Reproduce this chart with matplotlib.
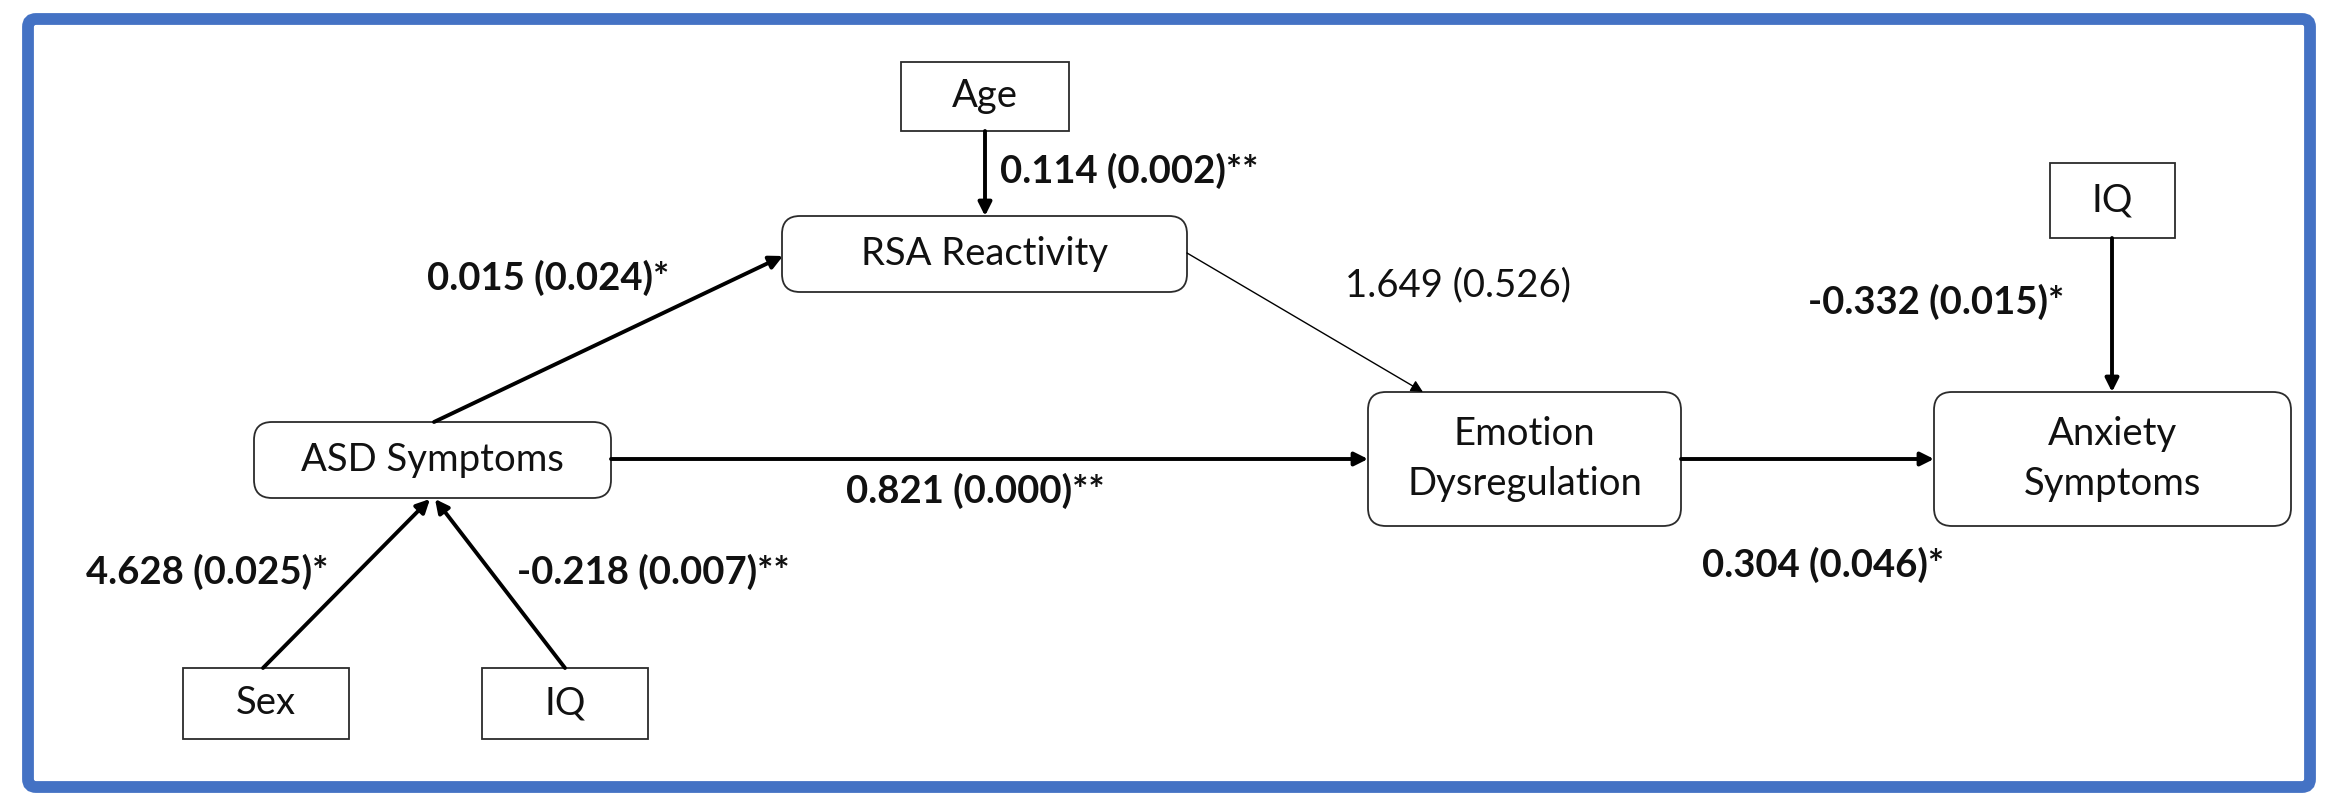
import matplotlib
matplotlib.use('Agg')
from matplotlib import pyplot as plt
from matplotlib.patches import FancyBboxPatch, Rectangle, FancyArrowPatch

plt.rcParams['font.family'] = ['Lato', 'DejaVu Sans']

# nodes of the path model
node_names = ['Age', 'RSA Reactivity', 'ASD Symptoms', 'Sex', 'IQ',
              'Emotion\nDysregulation', 'Anxiety\nSymptoms', 'IQ ']
node_rounded = [False, True, True, False, False, True, True, False]

# paths: (from, to), estimate, p-value, stars
path_ends = [('Age', 'RSA Reactivity'),
             ('ASD Symptoms', 'RSA Reactivity'),
             ('RSA Reactivity', 'Emotion\nDysregulation'),
             ('ASD Symptoms', 'Emotion\nDysregulation'),
             ('Emotion\nDysregulation', 'Anxiety\nSymptoms'),
             ('IQ ', 'Anxiety\nSymptoms'),
             ('Sex', 'ASD Symptoms'),
             ('IQ', 'ASD Symptoms')]
estimates = ['0.114', '0.015', '1.649', '0.821', '0.304', '-0.332', '4.628', '-0.218']
p_values = ['0.002', '0.024', '0.526', '0.000', '0.046', '0.015', '0.025', '0.007']
stars = ['**', '*', '', '**', '*', '*', '*', '**']

# layout in pixel coordinates (x0, y0, x1, y1)
boxes = {
    'Age': (901, 62, 1069, 131),
    'RSA Reactivity': (782, 216, 1187, 292),
    'ASD Symptoms': (254, 422, 611, 498),
    'Sex': (183, 668, 349, 739),
    'IQ': (482, 668, 648, 739),
    'Emotion\nDysregulation': (1368, 392, 1681, 526),
    'Anxiety\nSymptoms': (1934, 392, 2291, 526),
    'IQ ': (2050, 163, 2175, 238),
}
arrow_xy = [((985, 131), (985, 216)),
            ((434, 422), (783, 256)),
            ((1187, 253), (1423, 392)),
            ((611, 459), (1368, 459)),
            ((1681, 459), (1934, 459)),
            ((2112, 238), (2112, 392)),
            ((263, 668), (430, 499)),
            ((565, 668), (435, 499))]
label_xy = [(1000, 171, 'left'), (427, 278, 'left'), (1345, 285, 'left'),
            (846, 491, 'left'), (1702, 565, 'left'), (1808, 302, 'left'),
            (86, 572, 'left'), (517, 572, 'left')]

W, H = 2331, 796
fig = plt.figure(figsize=(W / 100, H / 100), dpi=100)
ax = fig.add_axes([0, 0, 1, 1])
ax.set_xlim(0, W)
ax.set_ylim(H, 0)
ax.axis('off')

# blue frame
ax.add_patch(FancyBboxPatch((28, 19), 2282, 768, boxstyle='round,pad=0,rounding_size=8',
                            fill=False, ec='#4472C4', lw=8.5, zorder=1))

for name, rounded in zip(node_names, node_rounded):
    x0, y0, x1, y1 = boxes[name]
    if rounded:
        p = FancyBboxPatch((x0, y0), x1 - x0, y1 - y0,
                           boxstyle='round,pad=0,rounding_size=18',
                           fc='white', ec='#2b2b2b', lw=1.3, zorder=3)
    else:
        p = Rectangle((x0, y0), x1 - x0, y1 - y0, fc='white', ec='#2b2b2b', lw=1.3, zorder=3)
    ax.add_patch(p)
    ax.text((x0 + x1) / 2, (y0 + y1) / 2, name.strip(), ha='center', va='center',
            fontsize=27.5, color='#111111', linespacing=1.45, zorder=4)

for (start, end), st in zip(arrow_xy, stars):
    bold = st != ''
    a = FancyArrowPatch(start, end, arrowstyle='-|>',
                        mutation_scale=20 if bold else 18,
                        lw=2.8 if bold else 1.0, color='black',
                        shrinkA=0, shrinkB=0, zorder=5)
    ax.add_patch(a)

for est, p, st, (lx, ly, ha) in zip(estimates, p_values, stars, label_xy):
    ax.text(lx, ly, f'{est} ({p}){st}', ha=ha, va='center', fontsize=27.5,
            fontweight='bold' if st else 'normal', color='#111111', zorder=6)

fig.savefig('out.png', dpi=100)
